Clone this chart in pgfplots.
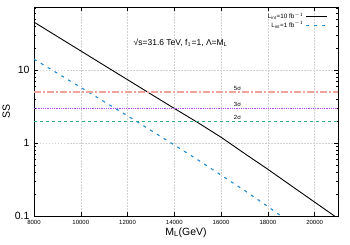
\documentclass[border=0pt]{standalone}
\usepackage{pgfplots}
\pgfplotsset{compat=1.18}
\usepackage{fontspec}
\setmainfont{Liberation Sans}
\definecolor{cblue}{HTML}{1F8AD0}
\definecolor{csal}{HTML}{F2A39B}
\definecolor{cvio}{HTML}{B44CF0}
\definecolor{cgrn}{HTML}{2EB08A}
\begin{document}
\begin{tikzpicture}
\begin{axis}[
  scale only axis, width=304pt, height=208.5pt,
  ymode=log, xmin=8000, xmax=21000, ymin=0.1, ymax=72,
  /pgf/number format/assume math mode=true,
  scaled x ticks=false,
  xtick={8000,10000,12000,14000,16000,18000,20000},
  xticklabels={8000,10000,12000,14000,16000,18000,20000},
  xticklabel style={font=\fontsize{6}{7}\selectfont, yshift=-1pt},
  ytick={0.1,1,10}, yticklabels={0.1,1,10},
  yticklabel style={font=\fontsize{10.5}{12}\selectfont, xshift=-1pt},
  minor ytick={0.2,0.3,0.4,0.5,0.6,0.7,0.8,0.9,2,3,4,5,6,7,8,9,20,30,40,50,60,70},
  tick align=inside, major tick length=4pt, minor tick length=2pt,
  tick style={black, line width=0.5pt},
  grid=major, grid style={dash pattern=on 1.5pt off 1.5pt, gray!35, line width=0.4pt},
  axis line style={line width=0.7pt},
  xlabel={M$_{\mathrm{L}}$(GeV)}, ylabel={SS},
  label style={font=\fontsize{10.5}{12}\selectfont},
  xlabel style={yshift=4pt}, ylabel style={yshift=-2pt},
  legend style={at={(rel axis cs:0.97,0.99)}, anchor=north east, draw=none, fill=none,
    font=\fontsize{6.3}{6.8}\selectfont, legend plot pos=right, row sep=-2.5pt, inner sep=1pt},
  legend cell align=right,
  legend image code/.code={\draw[#1] (0pt,0pt) -- (21pt,0pt);},
]
\addplot[black, line width=0.9pt] coordinates {
(8000,45.4) (9000,28.8) (10000,18.3) (11000,11.6) (12000,7.38) (13000,4.68)
(14000,2.98) (15000,1.91) (16000,1.20) (17000,0.72) (18000,0.437) (19000,0.26)
(20000,0.155) (20850,0.1)};
\addlegendentry{L$_{\mathrm{int}}$=10 fb$^{-1}$}
\addplot[cblue, line width=1.1pt, dash pattern=on 3pt off 5pt] coordinates {
(8000,14.1) (9000,9.04) (10000,5.78) (11000,3.69) (12000,2.36) (13000,1.49)
(14000,0.94) (15000,0.59) (16000,0.363) (17000,0.224) (18000,0.135) (18560,0.1)};
\addlegendentry{L$_{\mathrm{int}}$=1 fb$^{-1}$}
\addplot[csal, line width=1.3pt, dash pattern=on 7pt off 2pt on 2pt off 2pt, forget plot] coordinates {(8000,5) (21000,5)};
\addplot[cvio, line width=0.8pt, dash pattern=on 0.8pt off 1pt, forget plot] coordinates {(8000,3) (21000,3)};
\addplot[cgrn, line width=1pt, dash pattern=on 3pt off 3pt, forget plot] coordinates {(8000,2) (21000,2)};
\node[font=\fontsize{6}{7}\selectfont, anchor=south, inner sep=1pt] at (axis cs:16700,5) {5σ};
\node[font=\fontsize{6}{7}\selectfont, anchor=south, inner sep=1pt] at (axis cs:16700,3) {3σ};
\node[font=\fontsize{6}{7}\selectfont, anchor=south, inner sep=1pt] at (axis cs:16700,2) {2σ};
\node[font=\fontsize{8.5}{10}\selectfont] at (axis cs:14270,24) {√s=31.6 TeV, f$_1$=1, Λ=M$_{\mathrm{L}}$};
\end{axis}
\pgfresetboundingbox
\path ([shift={(-34pt,-29pt)}]current axis.south west) rectangle ([shift={(12pt,7.5pt)}]current axis.north east);
\end{tikzpicture}
\end{document}
